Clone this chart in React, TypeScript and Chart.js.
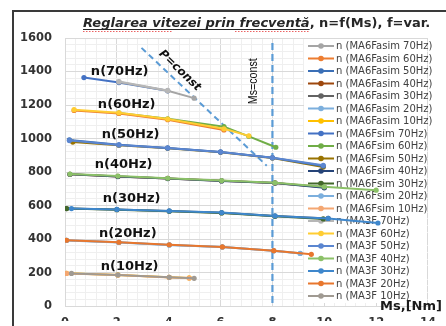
import React, { useEffect, useRef } from 'react';
import { Chart, registerables } from 'chart.js';

Chart.register(...registerables);

// ---- Data (Ms [Nm], n [rpm]) ----
const seriesNames = [
  'n (MA6Fasim 70Hz)', 'n (MA6Fasim 60Hz)', 'n (MA6Fasim 50Hz)', 'n (MA6Fasim 40Hz)',
  'n (MA6Fasim 30Hz)', 'n (MA6Fasim 20Hz)', 'n (MA6Fasim 10Hz)',
  'n (MA6Fsim 70Hz)', 'n (MA6Fsim 60Hz)', 'n (MA6Fsim 50Hz)', 'n (MA6Fsim 40Hz)',
  'n (MA6Fsim 30Hz)', 'n (MA6Fsim 20Hz)', 'n (MA6Fsim 10Hz)',
  'n (MA3F 70Hz)', 'n (MA3F 60Hz)', 'n (MA3F 50Hz)', 'n (MA3F 40Hz)',
  'n (MA3F 30Hz)', 'n (MA3F 20Hz)', 'n (MA3F 10Hz)',
];

const fasim70 = [[2.08, 1338], [3.96, 1285], [4.98, 1241]];
const fasim60 = [[0.35, 1168], [2.08, 1150], [3.96, 1112], [6.13, 1051]];
const fasim50 = [[0.17, 992], [2.08, 963], [3.96, 944], [6.0, 920], [8.0, 885], [9.96, 836]];
const fasim40 = [[0.19, 787], [2.04, 774], [3.96, 762], [6.04, 748], [8.1, 735], [10.0, 709]];
const fasim30 = [[0.06, 582], [2.0, 576], [4.02, 567], [6.04, 557], [8.1, 537], [10.15, 523]];
const fasim20 = [[0.06, 393], [2.08, 381], [4.02, 365], [6.07, 353], [8.05, 331], [9.07, 315]];
const fasim10 = [[0.06, 196], [2.04, 186], [4.02, 172], [4.79, 168]];

const fsim70 = [[0.73, 1364], [2.08, 1334], [3.96, 1285]];
const fsim60 = [[2.08, 1153], [3.96, 1118], [6.13, 1071], [7.09, 1013], [8.13, 948]];
const fsim50 = [[0.3, 979], [2.08, 960], [3.96, 942], [6.0, 918], [8.0, 884], [9.96, 830]];
const fsim40 = [[0.19, 787], [2.04, 773], [3.96, 761], [6.04, 747], [8.1, 734], [10.0, 706]];
const fsim30 = [[0.06, 582], [2.0, 575], [4.02, 566], [6.04, 556], [8.1, 536], [9.96, 520]];
const fsim20 = [[0.06, 392], [2.08, 380], [4.02, 365], [6.07, 352], [8.05, 330], [9.07, 314]];
const fsim10 = [[0.06, 195], [2.04, 185], [4.02, 171], [4.79, 167]];

const ma3f70 = [[2.08, 1340], [3.96, 1287]];
const ma3f60 = [[0.35, 1172], [2.08, 1154], [3.96, 1116], [6.13, 1058], [7.09, 1016]];
const ma3f50 = [[0.17, 988], [2.08, 962], [3.96, 943], [6.0, 919], [8.0, 886], [9.96, 840]];
const ma3f40 = [[0.19, 788], [2.04, 776], [3.96, 763], [6.04, 749], [8.1, 736], [10.0, 712], [12.0, 692]];
const ma3f30 = [[0.25, 582], [2.0, 577], [4.02, 568], [6.04, 558], [8.1, 538], [10.15, 523], [12.07, 496]];
const ma3f20 = [[0.06, 393], [2.08, 381], [4.02, 366], [6.07, 353], [8.05, 331], [9.5, 309]];
const ma3f10 = [[0.25, 195], [2.04, 186], [4.02, 172], [4.98, 166]];

const seriesData = [
  fasim70, fasim60, fasim50, fasim40, fasim30, fasim20, fasim10,
  fsim70, fsim60, fsim50, fsim40, fsim30, fsim20, fsim10,
  ma3f70, ma3f60, ma3f50, ma3f40, ma3f30, ma3f20, ma3f10,
];

const seriesColors = [
  '#a5a5a5', '#ed7d31', '#3b6fb6', '#9e480e', '#636363', '#7cafdd', '#ffc000',
  '#4472c4', '#70ad47', '#997300', '#264478', '#43682b', '#7cafdd', '#f4a772',
  '#b7b7b7', '#ffcd33', '#5b86d0', '#8cc168', '#3f87cc', '#e8772e', '#a09a92',
];
const seriesOrder = [1, 1, 1, 2, 2, 2, 2, 1, 1, 1, 1, 1, 1, 1, 0, 0, 0, 0, 0, 0, 0];

// Reference lines
const pConstLine = [[2.95, 1541], [7.78, 838]];
const msConstLine = [[8, 1570], [8, 0]];

// Annotation texts
const groupLabels = ['n(70Hz)', 'n(60Hz)', 'n(50Hz)', 'n(40Hz)', 'n(30Hz)', 'n(20Hz)', 'n(10Hz)'];
const groupLabelAnchors = [[2.11, 1401], [2.38, 1201], [2.53, 1026], [2.26, 844], [2.57, 639], [2.42, 434], [2.49, 234]];

const titlePart1 = 'Reglarea vitezei prin frecventă';
const titlePart2 = ', n=f(Ms), f=var.';
const xAxisTitle = 'Ms,[Nm]';

const X_MIN = 0, X_MAX = 14, X_MINOR = 0.4, X_MAJOR = 2;
const Y_MIN = 0, Y_MAX = 1600, Y_MINOR = 40, Y_MAJOR = 200;

const isMajor = (v: number, step: number) => Math.abs(v / step - Math.round(v / step)) < 1e-6;

const decorPlugin = {
  id: 'decor',
  beforeDraw(chart: any) {
    const { ctx } = chart;
    ctx.save();
    ctx.strokeStyle = '#3a3a3a';
    ctx.lineWidth = 2;
    ctx.beginPath();
    ctx.moveTo(13, 326);
    ctx.lineTo(13, 11);
    ctx.lineTo(446, 11);
    ctx.stroke();
    ctx.restore();
  },
  beforeDatasetsDraw(chart: any) {
    const { ctx, chartArea } = chart;
    ctx.save();
    // legend box
    ctx.fillStyle = '#ffffff';
    ctx.fillRect(304, 39, chartArea.right - 305, 264);
    const x0 = 308, x1 = 334;
    ctx.font = '10px "DejaVu Sans"';
    ctx.textBaseline = 'middle';
    ctx.textAlign = 'left';
    for (let i = 0; i < seriesNames.length; i++) {
      const y = 46 + i * 12.5;
      ctx.strokeStyle = seriesColors[i];
      ctx.lineWidth = 2;
      ctx.beginPath();
      ctx.moveTo(x0, y);
      ctx.lineTo(x1, y);
      ctx.stroke();
      ctx.fillStyle = seriesColors[i];
      ctx.beginPath();
      ctx.arc((x0 + x1) / 2, y, 2.8, 0, Math.PI * 2);
      ctx.fill();
      ctx.fillStyle = '#404040';
      ctx.fillText(seriesNames[i], 336, y + 0.5, 102);
    }
    ctx.restore();
  },
  afterDraw(chart: any) {
    const { ctx, scales } = chart;
    const xs = scales.x, ys = scales.y;
    ctx.save();
    // Title
    ctx.fillStyle = '#262626';
    ctx.textBaseline = 'alphabetic';
    ctx.textAlign = 'left';
    const tx = 83, ty = 27;
    ctx.font = 'italic bold 13px "DejaVu Sans"';
    const w1 = ctx.measureText(titlePart1).width;
    ctx.fillText(titlePart1, tx, ty);
    ctx.strokeStyle = '#262626';
    ctx.lineWidth = 1;
    ctx.beginPath();
    ctx.moveTo(tx, ty + 2.5);
    ctx.lineTo(tx + w1, ty + 2.5);
    ctx.stroke();
    ctx.font = 'bold 13px "DejaVu Sans"';
    ctx.fillText(titlePart2, tx + w1, ty);
    // spell-check squiggles
    ctx.strokeStyle = 'rgba(230,60,60,0.8)';
    ctx.setLineDash([1.5, 1.5]);
    ctx.beginPath();
    ctx.moveTo(tx, ty + 4.5); ctx.lineTo(tx + 90, ty + 4.5);
    ctx.moveTo(tx + 152, ty + 4.5); ctx.lineTo(tx + w1, ty + 4.5);
    ctx.stroke();
    ctx.setLineDash([]);

    // group labels
    ctx.fillStyle = '#111111';
    ctx.font = 'bold 13px "DejaVu Sans"';
    ctx.textAlign = 'center';
    ctx.textBaseline = 'middle';
    groupLabels.forEach((t, i) => {
      const [vx, vy] = groupLabelAnchors[i];
      ctx.fillText(t, xs.getPixelForValue(vx), ys.getPixelForValue(vy));
    });

    // axis title
    ctx.fillStyle = '#1a1a1a';
    ctx.font = 'bold 13px "DejaVu Sans"';
    ctx.fillText(xAxisTitle, 411, 307);

    // P=const
    ctx.save();
    ctx.translate(xs.getPixelForValue(4.43), ys.getPixelForValue(1405));
    ctx.rotate(Math.PI / 4.1);
    ctx.font = 'italic bold 11.5px "DejaVu Sans"';
    ctx.fillStyle = '#111111';
    ctx.fillText('P=const', 0, 0);
    ctx.restore();

    // Ms=const
    ctx.save();
    ctx.translate(xs.getPixelForValue(7.28), ys.getPixelForValue(1342));
    ctx.rotate(-Math.PI / 2);
    ctx.font = '12px "Liberation Sans"';
    ctx.fillStyle = '#111111';
    ctx.fillText('Ms=const', 0, 0, 46);
    ctx.restore();

    ctx.restore();
  },
};

export default function App() {
  const canvasRef = useRef<HTMLCanvasElement | null>(null);

  useEffect(() => {
    const canvas = canvasRef.current;
    if (!canvas) return;

    const datasets: any[] = seriesData.map((pts, i) => ({
      label: seriesNames[i],
      data: pts.map(([x, y]) => ({ x, y })),
      borderColor: seriesColors[i],
      backgroundColor: seriesColors[i],
      pointBackgroundColor: seriesColors[i],
      pointBorderColor: seriesColors[i],
      borderWidth: 2,
      pointRadius: 2.6,
      pointBorderWidth: 0,
      showLine: true,
      fill: false,
      tension: 0,
      order: seriesOrder[i],
    }));
    datasets.push({
      label: 'P=const',
      data: pConstLine.map(([x, y]) => ({ x, y })),
      borderColor: '#5b9bd5',
      borderWidth: 2,
      borderDash: [6, 4],
      pointRadius: 0,
      showLine: true,
      order: 3,
    });
    datasets.push({
      label: 'Ms=const',
      data: msConstLine.map(([x, y]) => ({ x, y })),
      borderColor: '#5b9bd5',
      borderWidth: 2.2,
      borderDash: [7, 4],
      pointRadius: 0,
      showLine: true,
      order: 3,
    });

    const chart = new Chart(canvas, {
      type: 'scatter',
      data: { datasets },
      options: {
        animation: false,
        responsive: false,
        maintainAspectRatio: false,
        layout: { padding: { top: 38, right: 16, left: 0, bottom: 0 } },
        plugins: {
          legend: { display: false },
          title: { display: false },
          tooltip: { enabled: false },
        },
        scales: {
          x: {
            type: 'linear',
            min: X_MIN,
            max: X_MAX,
            afterFit: (s: any) => { s.height = 15; },
            ticks: {
              stepSize: X_MINOR,
              autoSkip: false,
              maxRotation: 0,
              padding: 10,
              color: '#333333',
              font: { family: 'DejaVu Sans', weight: 'bold', size: 11.5 },
              callback: (v: any) => (isMajor(Number(v), X_MAJOR) ? String(Math.round(Number(v))) : ''),
            },
            grid: {
              drawTicks: false,
              color: (c: any) => (c.tick && isMajor(c.tick.value, X_MAJOR) ? '#d9d9d9' : '#efefef'),
              lineWidth: 1,
            },
            border: { color: '#d9d9d9' },
          },
          y: {
            type: 'linear',
            min: Y_MIN,
            max: Y_MAX,
            afterFit: (s: any) => { s.width = 65; },
            ticks: {
              stepSize: Y_MINOR,
              autoSkip: false,
              padding: 13,
              color: '#333333',
              font: { family: 'DejaVu Sans', weight: 'bold', size: 11.5 },
              callback: (v: any) => (isMajor(Number(v), Y_MAJOR) ? String(Math.round(Number(v))) : ''),
            },
            grid: {
              drawTicks: false,
              color: (c: any) => (c.tick && isMajor(c.tick.value, Y_MAJOR) ? '#d9d9d9' : '#efefef'),
              lineWidth: 1,
            },
            border: { color: '#d9d9d9' },
          },
        },
      },
      plugins: [decorPlugin],
    } as any);

    return () => chart.destroy();
  }, []);

  return (
    <div style={{ position: 'fixed', left: 0, top: 0, width: 446, height: 326, background: '#fff' }}>
      <canvas ref={canvasRef} width={446} height={326} style={{ display: 'block' }} />
    </div>
  );
}
